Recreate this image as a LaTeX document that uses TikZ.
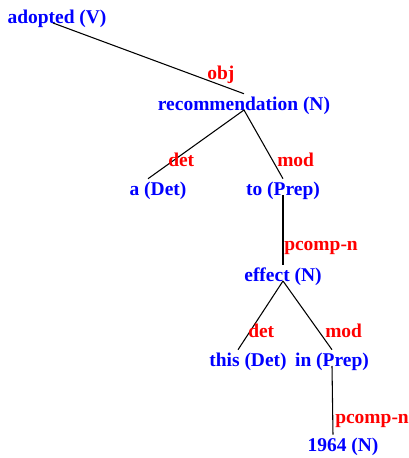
\documentclass[tikz,border=0pt]{standalone}
\usepackage{fontspec}
\setmainfont{Liberation Serif}
\usepackage{tikz}
\usetikzlibrary{positioning}
\definecolor{wordblue}{HTML}{0000FF}
\definecolor{relred}{HTML}{FF0000}
\tikzset{
  word/.style={font=\fontsize{14.6}{16}\selectfont\bfseries, text=wordblue,
    inner sep=0pt, text height=12pt, text depth=3pt, anchor=base},
  rel/.style={font=\fontsize{14.6}{16}\selectfont\bfseries, text=relred,
    inner sep=0pt, anchor=base west},
  link/.style={draw=black, line width=0.8pt}
}

\begin{document}
\begin{tikzpicture}[x=0.75pt, y=-0.75pt]
        \useasboundingbox (0,0) rectangle (408,458);

        % ── WORDS ──────────────────────────────────
        \foreach \n/\x/\y/\t in {adopted/57/23/{adopted (V)},
                                 rec/244/110/{recommendation (N)},
                                 a/158/195/{a (Det)},
                                 to/283/195/{to (Prep)},
                                 effect/283/281/{effect (N)},
                                 this/248/366/{this (Det)},
                                 in/332/366/{in (Prep)},
                                 year/343/451/{1964 (N)}} {
          \node[word] (\n) at (\x,\y) {\t};
        }

        % ── DEPENDENCIES ───────────────────────────
        \draw[link] ([xshift=-3pt]adopted.base) -- (rec.north);
        \draw[link] (rec.base) -- ([xshift=-7.5pt]a.north);
        \draw[link] (rec.base) -- (to.north);
        \draw[link] (to.base) -- (effect.north);
        \draw[link] (effect.base) -- ([xshift=-7.5pt]this.north);
        \draw[link] (effect.base) -- (in.north);
        \draw[link] (in.base) -- ([xshift=-7.5pt]year.north);

        % ── RELATION LABELS ────────────────────────
        \node[rel] (lobj) at (207,79) {obj};
        \node[rel] (ldet) at (168,166) {det};
        \node[rel] (lmod) at (277,166) {mod};
        \node[rel] (lpc) at (284,250) {pcomp-n};
        \node[rel] (ldett) at (248,337) {det};
        \node[rel] (lmodd) at (325,337) {mod};
        \node[rel] (lpcc) at (335,423) {pcomp-n};
\end{tikzpicture}
\end{document}
